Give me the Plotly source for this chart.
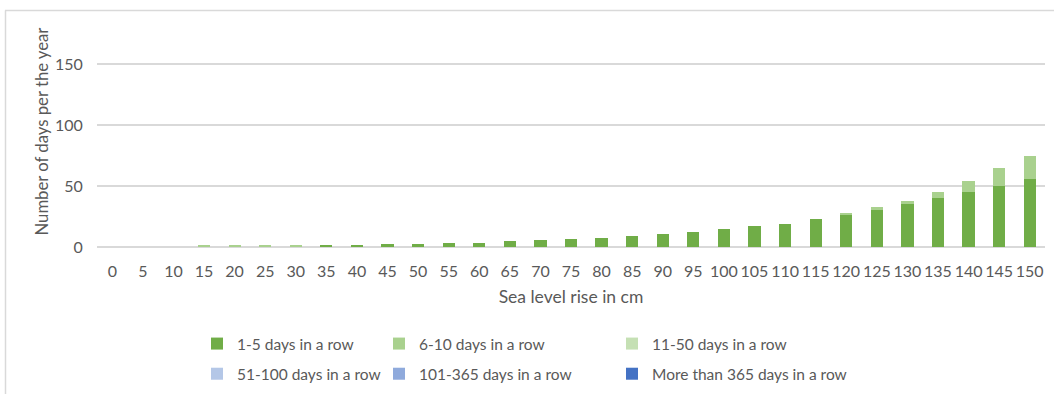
import plotly.graph_objects as go

# Sea level rise steps (cm)
sea_level_cm = [0, 5, 10, 15, 20, 25, 30, 35, 40, 45, 50, 55, 60, 65, 70, 75,
                80, 85, 90, 95, 100, 105, 110, 115, 120, 125, 130, 135, 140, 145, 150]
categories = [str(v) for v in sea_level_cm]

# Days per year, split by length of the flooding streak
days_1_5 = [0, 0, 0, 0, 0, 0, 0, 2, 2, 2.5, 2.5, 3, 3, 5, 5.5, 6.3,
            7.7, 9, 10.5, 12, 14.5, 17, 19.2, 22.7, 26.5, 30.6, 35, 40, 45.5, 50, 56]
days_6_10 = [0, 0, 0, 1.5, 1.5, 1.5, 1.5, 0, 0, 0, 0, 0, 0, 0, 0, 0,
             0, 0, 0, 0, 0, 0, 0, 0, 1, 2.2, 3, 5, 9, 14.5, 19]
days_11_50 = [0] * 31
days_51_100 = [0] * 31
days_101_365 = [0] * 31
days_over_365 = [0] * 31

series = [
    ("1-5 days in a row", days_1_5, "#70ad47", "legend", 0),
    ("6-10 days in a row", days_6_10, "#a9d18e", "legend2", 0),
    ("11-50 days in a row", days_11_50, "#c5e0b4", "legend3", 0),
    ("51-100 days in a row", days_51_100, "#b4c7e7", "legend", 1),
    ("101-365 days in a row", days_101_365, "#8faadc", "legend2", 1),
    ("More than 365 days in a row", days_over_365, "#4472c4", "legend3", 1),
]

W, H = 1054, 394
L, R, T, B = 97, 9, 34, 147
FONT = "Lato, 'Open Sans', sans-serif"
TXT = "#595959"

fig = go.Figure()
for name, vals, color, leg, row in series:
    fig.add_trace(go.Bar(
        x=categories, y=vals, name=name,
        marker=dict(color=color, line=dict(width=0)),
        legend=leg, legendgroup=f"{leg}-{row}",
        hoverinfo="x+y+name",
    ))

legend_style = dict(
    orientation="v", xref="container", yref="container",
    yanchor="top", xanchor="left", y=1 - 327 / H,
    font=dict(family=FONT, size=15.5, color=TXT),
    bgcolor="rgba(0,0,0,0)", tracegroupgap=7, itemwidth=30,
    traceorder="grouped",
)

plot_w = W - L - R
plot_h = H - T - B

def px_x(p):
    return (p - L) / plot_w

def px_y(p):
    return (H - B - p) / plot_h

fig.update_layout(
    width=W, height=H,
    margin=dict(l=L, r=R, t=T, b=B, autoexpand=False),
    barmode="stack", bargap=0.6,
    plot_bgcolor="white", paper_bgcolor="white",
    font=dict(family=FONT, size=15, color=TXT),
    legend=dict(legend_style, x=197 / W),
    legend2=dict(legend_style, x=379 / W),
    legend3=dict(legend_style, x=612 / W),
    xaxis=dict(
        type="category", showgrid=False, showline=False,
        ticks="outside", ticklen=10, tickcolor="rgba(0,0,0,0)",
        tickfont=dict(family=FONT, size=16, color=TXT),
        title=dict(text="Sea level rise in cm", standoff=11,
                   font=dict(family=FONT, size=17.5, color=TXT)),
        automargin=False,
    ),
    yaxis=dict(
        range=[0, 175], tickvals=[0, 50, 100, 150],
        showgrid=True, gridcolor="#d9d9d9", gridwidth=1.5,
        zeroline=True, zerolinecolor="#d9d9d9", zerolinewidth=1.5,
        showline=False,
        ticks="outside", ticklen=10, tickcolor="rgba(0,0,0,0)",
        tickfont=dict(family=FONT, size=16, color=TXT),
        automargin=False,
    ),
    annotations=[
        dict(text="Number of days per the year", textangle=-90,
             xref="paper", yref="paper", x=px_x(41), y=px_y(131.5),
             xanchor="center", yanchor="middle", showarrow=False,
             font=dict(family=FONT, size=16.7, color=TXT)),
    ],
    shapes=[
        # chart frame: top and left edges
        dict(type="line", xref="paper", yref="paper",
             x0=px_x(5), x1=px_x(W + 2), y0=px_y(10.5), y1=px_y(10.5),
             line=dict(color="#d9d9d9", width=1.5)),
        dict(type="line", xref="paper", yref="paper",
             x0=px_x(5.5), x1=px_x(5.5), y0=px_y(10.5), y1=px_y(H + 2),
             line=dict(color="#d9d9d9", width=1.5)),
    ],
)

fig.write_html("out.html")
